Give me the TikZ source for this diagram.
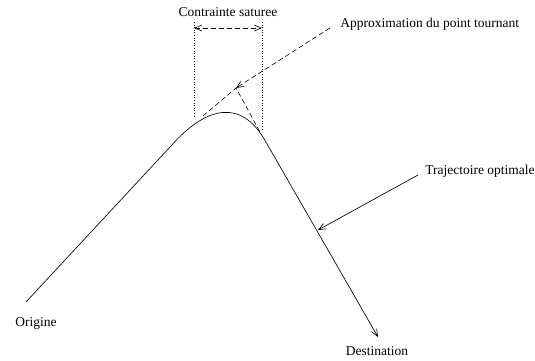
\documentclass[tikz,border=0pt]{standalone}
\usepackage{fontspec}
\setmainfont{Liberation Serif}
\usetikzlibrary{arrows.meta}
\begin{document}
\begin{tikzpicture}[x=1pt,y=-1pt,
  lbl/.style={inner sep=0pt,font=\fontsize{13.5}{15}\selectfont},
  tip/.style={-{Straight Barb[length=7pt,width=6pt]}},
  dsh/.style={dash pattern=on 5pt off 3pt,line width=0.6pt},
  dot/.style={dotted,line width=0.6pt},
  line width=0.65pt]
\useasboundingbox (0,0) rectangle (535,361);
% named points
\coordinate (O) at (26,302);
\coordinate (P1) at (175,141.6);
\coordinate (P2) at (265,140.4);
\coordinate (D) at (378,337);
\coordinate (T1) at (203,116);
\coordinate (T2) at (260,132);
\coordinate (X) at (236,88);
\coordinate (L1) at (194,117);
\coordinate (L1t) at (194,22);
\coordinate (R1) at (262,130);
\coordinate (R1t) at (262,22);
\coordinate (M1) at (194,28);
\coordinate (M2) at (262,28);
\coordinate (A1) at (330,28);
\coordinate (B1) at (418,175);
\coordinate (B2) at (318,230);
% labels
\node[lbl] (cs) at (228,12) {Contrainte saturee};
\node[lbl,anchor=west] (ap) at (340,24) {Approximation du point tournant};
\node[lbl,anchor=west] (to) at (425,171) {Trajectoire optimale};
\node[lbl] (or) at (36,323) {Origine};
\node[lbl] (de) at (377,351) {Destination};
% trajectory
\draw[tip] (O) -- (P1) .. controls (207,107.3) and (241,98.6) .. (P2) -- (D);
% tangents
\draw[dsh] (T1) -- (X) -- (T2);
\draw[dsh,tip] (A1) -- (X);
% dotted verticals
\draw[dot] (L1t) -- (L1);
\draw[dot] (R1t) -- (R1);
\draw[dsh,{Straight Barb[length=7pt,width=6pt]}-{Straight Barb[length=7pt,width=6pt]}] (M1) -- (M2);
% pointer
\draw[tip] (B1) -- (B2);
\end{tikzpicture}
\end{document}
